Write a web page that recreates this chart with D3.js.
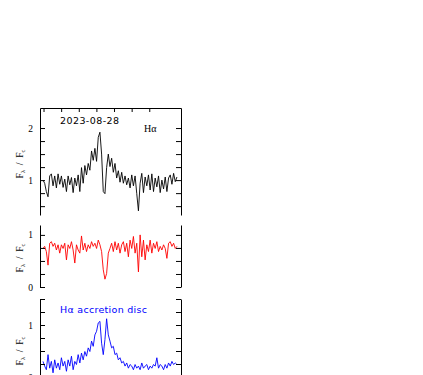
<!DOCTYPE html>
<html>
<head>
<meta charset="utf-8">
<script src="https://cdn.jsdelivr.net/npm/d3@7"></script>
<style>
  body { margin: 0; background: #fff; }
  svg { display: block; background: #fff; }
  .tick text { font-family: "Liberation Serif", serif; font-size: 9.5px; fill: #000; }
  .tick line, .domain { stroke: #000; stroke-width: 1; }
</style>
</head>
<body>
<div id="chart"></div>
<script>
// wavelength grid of the three spectra (Angstrom)
const WAVE_START = 6529.7
const WAVE_STEP = 0.95
const X_TICKS = [6530, 6540, 6550, 6560, 6570, 6580, 6590]

// observed H-alpha profile, normalised to continuum
const FLUX_OBS = [
  1.00, 0.94, 0.78, 0.68, 1.08, 1.12, 0.89, 1.08, 0.85, 1.12,
  0.92, 1.08, 0.86, 1.02, 0.78, 1.08, 0.91, 1.05, 0.76, 1.04,
  0.89, 1.10, 0.78, 1.24, 0.94, 1.28, 1.10, 1.32, 1.19, 1.56,
  1.38, 1.61, 1.36, 1.82, 1.92, 1.50, 0.78, 0.74, 1.24, 1.50,
  1.26, 1.42, 1.15, 1.32, 1.04, 1.18, 0.96, 1.15, 0.94, 1.08,
  0.91, 1.04, 0.85, 1.10, 0.89, 1.08, 0.74, 0.41, 0.94, 1.13,
  0.76, 1.06, 0.89, 1.10, 0.81, 1.12, 0.78, 1.04, 0.87, 1.08,
  0.76, 1.00, 0.83, 1.06, 0.78, 1.04, 1.10, 0.92, 1.13, 0.97,
  1.06
]

// second (red) spectrum
const FLUX_RED = [
  0.74, 0.78, 0.68, 0.42, 0.84, 0.87, 0.78, 0.84, 0.71, 0.81,
  0.65, 0.81, 0.74, 0.84, 0.52, 0.81, 0.74, 0.87, 0.71, 0.46,
  0.81, 0.71, 0.65, 0.98, 0.71, 0.84, 0.68, 0.81, 0.74, 0.87,
  0.78, 0.84, 0.74, 0.90, 0.81, 0.68, 0.33, 0.15, 0.26, 0.65,
  0.74, 0.84, 0.68, 0.87, 0.71, 0.84, 0.65, 0.81, 0.87, 0.68,
  0.84, 0.58, 0.90, 0.74, 0.97, 0.65, 0.84, 0.29, 1.00, 0.58,
  0.90, 0.52, 0.81, 0.68, 0.90, 0.65, 0.84, 0.74, 0.87, 0.68,
  0.78, 0.71, 0.81, 0.74, 0.55, 0.84, 0.87, 0.78, 0.84, 0.74,
  0.78
]

// accretion disc component (blue)
const FLUX_DISC = [
  0.30, 0.21, 0.14, 0.43, 0.17, 0.30, 0.08, 0.33, 0.17, 0.27,
  0.14, 0.37, 0.21, 0.30, 0.11, 0.33, 0.21, 0.40, 0.14, 0.30,
  0.24, 0.43, 0.27, 0.46, 0.33, 0.49, 0.40, 0.56, 0.49, 0.69,
  0.59, 0.81, 0.88, 1.04, 1.07, 0.65, 0.43, 0.72, 1.12, 0.81,
  0.69, 0.56, 0.59, 0.43, 0.46, 0.33, 0.37, 0.27, 0.30, 0.21,
  0.27, 0.17, 0.24, 0.21, 0.14, 0.24, 0.17, 0.21, 0.14, 0.27,
  0.17, 0.21, 0.24, 0.14, 0.21, 0.17, 0.24, 0.21, 0.37, 0.17,
  0.24, 0.21, 0.14, 0.24, 0.17, 0.27, 0.21, 0.30, 0.24, 0.27,
  0.24
]

const Y_TICKS_OBS = [0.5, 0.75, 1, 1.25, 1.5, 1.75, 2]
const Y_TICKS_RED = [0, 0.25, 0.5, 0.75, 1]
const Y_TICKS_DISC = [0, 0.25, 0.5, 0.75, 1, 1.25, 1.5]

const DATE_LABEL = "2023-08-28"
const LINE_LABEL = "H\u03b1"
const DISC_LABEL = "H\u03b1 accretion disc"

const WIDTH = 423
const HEIGHT = 375
const LEFT = 40
const RIGHT = 181

const toPoints = (arr) => arr.map((v, i) => ({ w: WAVE_START + i * WAVE_STEP, v: v }))

const xScale = d3.scaleLinear()
  .domain([6528, 6608])
  .range([LEFT, RIGHT])

const panels = [
  { data: FLUX_OBS, color: "#000000", domain: [0.33, 2.385], range: [215, 108], ticks: Y_TICKS_OBS, top: true, title: 164 },
  { data: FLUX_RED, color: "#ff0000", domain: [0, 1.19], range: [287, 225], ticks: Y_TICKS_RED, title: 258 },
  { data: FLUX_DISC, color: "#0000ff", domain: [-0.5, 1.5], range: [403, 299], ticks: Y_TICKS_DISC, title: 351 }
]

const svg = d3.select("#chart")
  .append("svg")
  .attr("width", WIDTH)
  .attr("height", HEIGHT)

const yFormat = (d) => Number.isInteger(d) ? String(d) : ""

panels.forEach((p) => {
  const yScale = d3.scaleLinear().domain(p.domain).range(p.range)

  // spectrum
  const line = d3.line()
    .x((d) => xScale(d.w))
    .y((d) => yScale(d.v))

  svg.append("path")
    .datum(toPoints(p.data))
    .attr("fill", "none")
    .attr("stroke", p.color)
    .attr("stroke-width", 0.9)
    .attr("stroke-linejoin", "round")
    .attr("d", line)

  // left axis, ticks pointing inward
  svg.append("g")
    .attr("transform", `translate(${LEFT},0)`)
    .call(d3.axisLeft(yScale).tickValues(p.ticks).tickFormat(yFormat)
      .tickSizeInner(-5).tickSizeOuter(0).tickPadding(7))

  // right axis, no labels
  svg.append("g")
    .attr("transform", `translate(${RIGHT},0)`)
    .call(d3.axisRight(yScale).tickValues(p.ticks).tickFormat("")
      .tickSizeInner(-5).tickSizeOuter(0))

  if (p.top) {
    svg.append("g")
      .attr("transform", `translate(0,${p.range[1]})`)
      .call(d3.axisTop(xScale).tickValues(X_TICKS).tickFormat("")
        .tickSizeInner(-4).tickSizeOuter(0))
  }

  // y title F_lambda / F_c
  const t = svg.append("text")
    .attr("transform", `translate(23,${p.title}) rotate(-90)`)
    .attr("text-anchor", "middle")
    .attr("font-family", "Liberation Serif, serif")
    .attr("font-size", 9.5)
    .attr("fill", "#000")
  t.append("tspan").text("F")
  t.append("tspan").attr("dy", 2).attr("font-size", 6.5).text("\u03bb")
  t.append("tspan").attr("dy", -2).text("  /  F")
  t.append("tspan").attr("dy", 2).attr("font-size", 6.5).text("c")
})

svg.selectAll("text").attr("xml:space", "preserve")

svg.append("text")
  .attr("x", 60)
  .attr("y", 123.5)
  .attr("font-family", "DejaVu Sans, sans-serif")
  .attr("font-size", 9.5)
  .attr("textLength", 59)
  .attr("lengthAdjust", "spacing")
  .attr("fill", "#000")
  .text(DATE_LABEL)

svg.append("text")
  .attr("x", 144)
  .attr("y", 132)
  .attr("font-family", "Liberation Serif, serif")
  .attr("font-size", 10)
  .attr("fill", "#000")
  .text(LINE_LABEL)

svg.append("text")
  .attr("x", 60)
  .attr("y", 313)
  .attr("font-family", "DejaVu Sans, sans-serif")
  .attr("font-size", 9.5)
  .attr("textLength", 87)
  .attr("lengthAdjust", "spacing")
  .attr("fill", "#0000ff")
  .text(DISC_LABEL)
</script>
</body>
</html>
